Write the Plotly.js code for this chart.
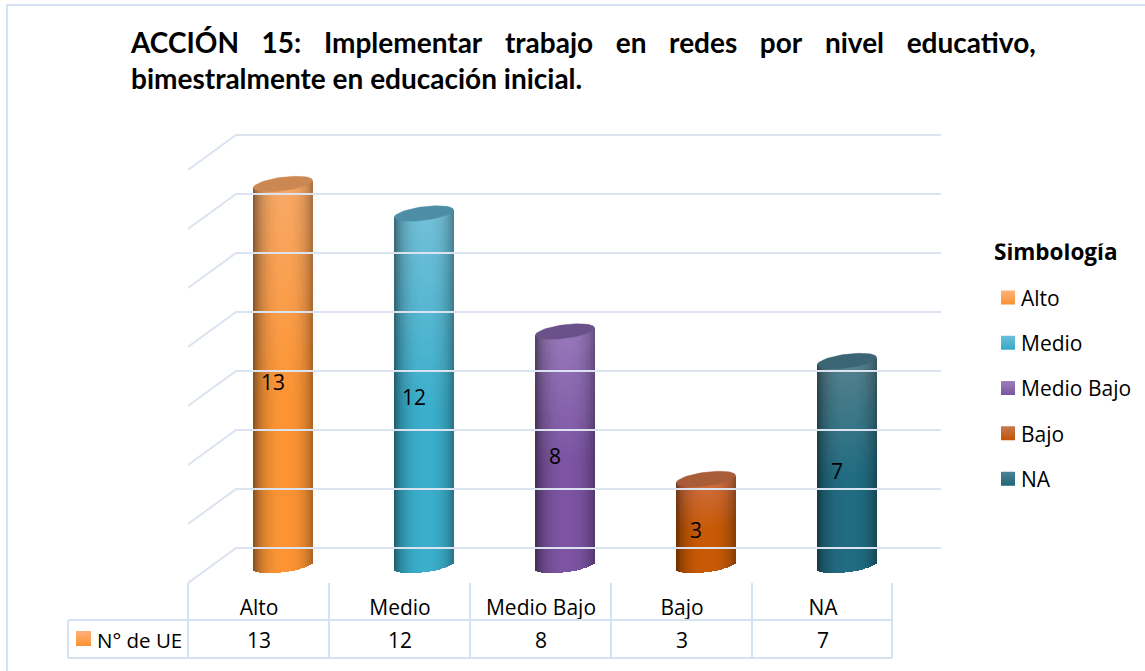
<!DOCTYPE html>
<html><head><meta charset="utf-8">
<script src="https://cdn.plot.ly/plotly-3.0.1.min.js"></script>
<style>html,body{margin:0;padding:0;background:#fff}</style>
</head><body><div id="chart" style="width:1145px;height:671px"></div>
<script>
// ---- data ----
const categories = ['Alto', 'Medio', 'Medio Bajo', 'Bajo', 'NA'];
const values = [13, 12, 8, 3, 7];
const gridValues = [0, 2, 4, 6, 8, 10, 12, 14];
const seriesName = 'N° de UE';
const legendTitle = 'Simbología';
const titleLine1 = ['ACCIÓN', '15:', 'Implementar', 'trabajo', 'en', 'redes', 'por', 'nivel', 'educativo,'];
const titleLine2 = 'bimestralmente en educación inicial.';
// colours: top-of-body, lower body, cap
const bodyTop = ['#f8a967', '#72c0d8', '#9878bb', '#cf6e42', '#55828f'];
const bodyLow = ['#fc9434', '#3aaecb', '#7c54a2', '#c95a05', '#216c82'];
const capColor = ['#cc8852', '#4d8ea6', '#6a5189', '#a95c38', '#3b6575'];
const swatchTop = ['#ffb27a', '#6cc0d8', '#9a80bb', '#c97850', '#4f8296'];
const swatchLow = ['#fb9234', '#38a9c6', '#7a549e', '#c05204', '#1f6678'];

// ---- geometry ----
const W = 1145, H = 671, L = 188, R = 941, T = 100, B = 583;
const pxX = 141, pxY = 29.5, y0Px = 565.5, x0Px = 259;
const xRange = [(L - x0Px) / pxX, (R - x0Px) / pxX];
const yRange = [(y0Px - B) / pxY, (y0Px - T) / pxY];
const paperX = p => (p - L) / (R - L);
const paperY = p => (B - p) / (B - T);
const cylOff = 24 / pxX, halfW = 29.5 / pxX, ellB = 6.8 / pxY, tilt = 3.6 / pxY, capDrop = 2 / pxY;
const wallDX = 48 / pxX, wallDY = 17.5 / pxY;
const textSize = 21;

function hex(c) { return [1, 3, 5].map(i => parseInt(c.substr(i, 2), 16)); }
function shade(top, low, s, f) {
  const a = hex(top), b = hex(low);
  const m = Math.min(1, s / 0.55);
  return 'rgb(' + a.map((v, i) => Math.round((v + (b[i] - v) * m) * f)).join(',') + ')';
}

// grid (perspective walls)
const gx = [], gy = [];
gridValues.forEach(v => {
  gx.push(xRange[0], xRange[0] + wallDX, xRange[1], null);
  gy.push(v - wallDY, v + wallDY, v + wallDY, null);
});
const traces = [{
  type: 'scatter', mode: 'lines', x: gx, y: gy, showlegend: false, hoverinfo: 'skip',
  line: { color: '#dbe3f0', width: 2 }
}];

// cylinders built from strips of the value
const STRIPS = 30, SEGS = 40;
values.forEach((v, k) => {
  const cx = k + cylOff, xs = [], ys = [], bs = [], cs = [];
  for (let i = 0; i < STRIPS; i++) {
    const t = -1 + 2 * (i + 0.5) / STRIPS;
    const edge = 0.56 + 0.44 * Math.pow(Math.max(0, 1 - Math.pow(Math.abs(t - 0.05), 2.4)), 0.75);
    const bot = -ellB * Math.sqrt(1 - t * t) + tilt * t;
    const top = v - capDrop + tilt * t;
    for (let j = 0; j < SEGS; j++) {
      const a = bot + (top - bot) * j / SEGS, b = bot + (top - bot) * (j + 1) / SEGS;
      xs.push(cx + t * halfW); bs.push(a); ys.push(b - a);
      cs.push(shade(bodyTop[k], bodyLow[k], 1 - (j + 0.5) / SEGS, edge));
    }
  }
  traces.push({
    type: 'bar', x: xs, y: ys, base: bs, width: 2 * halfW / STRIPS + 0.0005,
    marker: { color: cs, line: { width: 0 } }, showlegend: false, hoverinfo: 'skip'
  });
});
// caps
values.forEach((v, k) => {
  const cx = k + cylOff, xs = [], ys = [];
  for (let d = 0; d <= 360; d += 6) {
    const r = d * Math.PI / 180;
    xs.push(cx + halfW * Math.cos(r));
    ys.push(v - capDrop + ellB * Math.sin(r) + tilt * Math.cos(r));
  }
  traces.push({
    type: 'scatter', mode: 'lines', x: xs, y: ys, fill: 'toself', fillcolor: capColor[k],
    line: { color: capColor[k], width: 0.5 }, showlegend: false, hoverinfo: 'skip'
  });
});
// data labels
traces.push({
  type: 'scatter', mode: 'text', x: categories.map((c, i) => i + 14 / pxX),
  y: values.map(v => v / 2 - 0.38), text: values.map(String), textposition: 'middle center',
  textfont: { family: 'Open Sans', size: textSize, color: '#000' }, showlegend: false, hoverinfo: 'skip'
});
// legend entries
categories.forEach((c, k) => traces.push({
  type: 'scatter', mode: 'markers', name: c, x: [null], y: [null], legendgroup: c, hoverinfo: 'skip',
  marker: { symbol: 'square', size: 14, color: swatchTop[k], line: { width: 0 },
    gradient: { type: 'vertical', color: swatchLow[k] } }
}));

// table
const tblColor = '#d5e2f3';
const cells = [188, 329, 470, 611, 752, 892];
const shapes = [{
  type: 'rect', xref: 'paper', yref: 'paper', x0: paperX(7), x1: paperX(1160), y0: paperY(5), y1: paperY(690),
  line: { color: '#d5e2f3', width: 2 }, layer: 'below'
}];
const ln = (x0, y0, x1, y1) => ({
  type: 'line', xref: 'paper', yref: 'paper', x0: paperX(x0), x1: paperX(x1), y0: paperY(y0), y1: paperY(y1),
  line: { color: tblColor, width: 2 }
});
cells.forEach(c => shapes.push(ln(c, 583, c, 658)));
shapes.push(ln(68, 620, 892, 620), ln(68, 658, 892, 658), ln(68, 620, 68, 658));
// series key in the table: small gradient square, pixel-aligned bands
shapes.push({
  type: 'rect', xref: 'paper', yref: 'paper', x0: paperX(76), x1: paperX(91), y0: paperY(631), y1: paperY(646),
  line: { width: 0 }, fillcolor: swatchLow[0]
});
for (let i = 0; i < 5; i++) {
  shapes.push({
    type: 'rect', xref: 'paper', yref: 'paper', x0: paperX(76), x1: paperX(91),
    y0: paperY(631 + i * 3), y1: paperY(631 + i * 3 + 3), line: { width: 0 },
    fillcolor: shade(swatchTop[0], swatchLow[0], (i + 0.5) / 5 * 0.55, 1)
  });
}

const annotations = values.map((v, i) => ({
  xref: 'x', yref: 'paper', x: i, y: paperY(640), text: String(v), showarrow: false,
  font: { family: 'Open Sans', size: textSize, color: '#000' }, xanchor: 'center', yanchor: 'middle'
}));
annotations.push({
  xref: 'paper', yref: 'paper', x: paperX(95), y: paperY(640), text: seriesName, showarrow: false,
  font: { family: 'Open Sans', size: 20.5, color: '#000' }, xanchor: 'left', yanchor: 'middle'
});

const tSize = 28;
const gap = '<span style="font-size:31px">&nbsp;&nbsp;&nbsp;</span>';
const sp = s => '<span style="font-size:' + tSize + 'px">' + s + '</span>';
const layout = {
  width: W, height: H, autosize: false, paper_bgcolor: '#fff', plot_bgcolor: 'rgba(0,0,0,0)',
  margin: { l: L, r: W - R, t: T, b: H - B, autoexpand: false }, barmode: 'overlay', bargap: 0,
  font: { family: 'Open Sans', color: '#000' },
  title: {
    text: '<b>' + titleLine1.map(sp).join(gap) + '<br>' + sp(titleLine2) + '</b>',
    x: 131 / W, xanchor: 'left', xref: 'container', y: 1 - 53 / H, yref: 'container', yanchor: 'top',
    font: { family: 'Lato', size: 27.7, color: '#000' }
  },
  xaxis: {
    range: xRange, tickmode: 'array', tickvals: categories.map((c, i) => i), ticktext: categories,
    showgrid: false, zeroline: false, showline: false, ticks: 'outside', ticklen: 5.5, tickcolor: 'rgba(0,0,0,0)',
    tickfont: { family: 'Open Sans', size: textSize, color: '#000' }, fixedrange: true
  },
  yaxis: { range: yRange, showgrid: false, zeroline: false, showline: false, showticklabels: false, ticks: '', fixedrange: true },
  legend: {
    x: 992 / W, xref: 'container', y: 1 - 243.5 / H, yref: 'container', xanchor: 'left', yanchor: 'top',
    title: { text: '<b><span style="font-size:22.5px">' + legendTitle + '</span></b><br><span style="font-size:13px">&nbsp;</span>',
      font: { family: 'Open Sans', size: 13, color: '#000' } },
    font: { family: 'Open Sans', size: textSize, color: '#000' }, traceorder: 'grouped', tracegroupgap: 15, indentation: -11,
    bgcolor: 'rgba(0,0,0,0)', borderwidth: 0, itemclick: false, itemdoubleclick: false
  },
  shapes, annotations, hovermode: false
};
Plotly.newPlot('chart', traces, layout, { displayModeBar: false }).then(() => {
  document.querySelectorAll('#chart .legend .legendpoints').forEach(g => g.setAttribute('transform', 'translate(7,0)'));
});
</script></body></html>
